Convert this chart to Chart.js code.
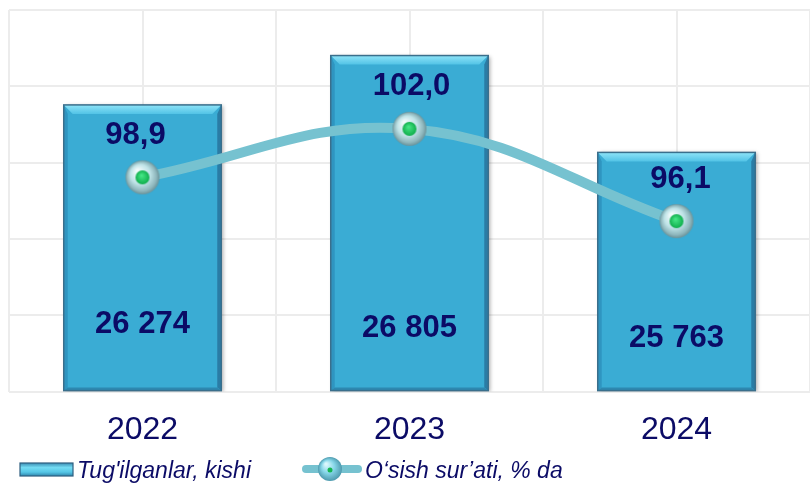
<!DOCTYPE html>
<html>
<head>
<meta charset="utf-8">
<script src="https://cdn.jsdelivr.net/npm/chart.js@4.4.1/dist/chart.umd.min.js"></script>
<style>
  body { margin: 0; background: #ffffff; }
  #wrap { width: 810px; height: 485px; position: relative; }
</style>
</head>
<body>
<div id="wrap"><canvas id="births-chart"></canvas></div>
<script>
const years = ['2022', '2023', '2024'];
const births = [26274, 26805, 25763];
const growthRate = [98.9, 102.0, 96.1];

const seriesNames = ['Tug\'ilganlar, kishi', 'O\u2018sish sur\u2019ati, % da'];

const navy = '#0b0b66';
const fontName = '"Liberation Sans", Arial, sans-serif';
const lineColor = '#76c2d0';
const birthsAxisMin = 23190;

function formatThousands(value) {
  return String(value).replace(/\B(?=(\d{3})+(?!\d))/g, ' ');
}

function formatRate(value) {
  return value.toFixed(1).replace('.', ',');
}

function makeMarker(radius, dotRadius) {
  const size = radius * 2 + 4;
  const c = document.createElement('canvas');
  c.width = size;
  c.height = size;
  const g = c.getContext('2d');
  const mid = size / 2;

  let grad = g.createRadialGradient(mid - radius * 0.3, mid - radius * 0.4, 1, mid, mid, radius);
  grad.addColorStop(0, '#f2fbfc');
  grad.addColorStop(0.55, '#bfe3e7');
  grad.addColorStop(0.85, '#8fb7bd');
  grad.addColorStop(1, '#6a9299');
  g.beginPath();
  g.arc(mid, mid, radius, 0, Math.PI * 2);
  g.fillStyle = grad;
  g.fill();

  grad = g.createRadialGradient(mid - 1, mid - 2, 0.5, mid, mid, dotRadius);
  grad.addColorStop(0, '#45e685');
  grad.addColorStop(1, '#0fae4c');
  g.beginPath();
  g.arc(mid, mid, dotRadius, 0, Math.PI * 2);
  g.fillStyle = grad;
  g.fill();
  return c;
}

const pointMarker = makeMarker(17, 7);

// shadow under the bars, then a bevel on top of them
const barBevel = {
  id: 'barBevel',
  beforeDatasetDraw(chart, args) {
    if (args.meta.type !== 'bar') return;
    const ctx = chart.ctx;
    ctx.save();
    ctx.shadowColor = 'rgba(0, 0, 0, 0.35)';
    ctx.shadowBlur = 4;
    ctx.shadowOffsetX = 2;
    ctx.shadowOffsetY = 1;
  },
  afterDatasetDraw(chart, args) {
    if (args.meta.type !== 'bar') return;
    const ctx = chart.ctx;
    ctx.restore();
    ctx.save();
    args.meta.data.forEach(bar => {
      const { x, y, base, width } = bar.getProps(['x', 'y', 'base', 'width'], true);
      const left = x - width / 2;
      const right = x + width / 2;
      const b = 9;
      const side = 4;

      const topGrad = ctx.createLinearGradient(0, y, 0, y + b);
      topGrad.addColorStop(0, '#8fe4f8');
      topGrad.addColorStop(1, '#52c3e6');
      ctx.beginPath();
      ctx.moveTo(left, y);
      ctx.lineTo(right, y);
      ctx.lineTo(right - b, y + b);
      ctx.lineTo(left + b, y + b);
      ctx.closePath();
      ctx.fillStyle = topGrad;
      ctx.fill();

      ctx.beginPath();
      ctx.moveTo(left, y);
      ctx.lineTo(left + side, y + b);
      ctx.lineTo(left + side, base - 3);
      ctx.lineTo(left, base);
      ctx.closePath();
      ctx.fillStyle = '#2f95c0';
      ctx.fill();

      ctx.beginPath();
      ctx.moveTo(right, y);
      ctx.lineTo(right - side, y + b);
      ctx.lineTo(right - side, base - 3);
      ctx.lineTo(right, base);
      ctx.closePath();
      ctx.fillStyle = '#2a7ca5';
      ctx.fill();

      ctx.beginPath();
      ctx.moveTo(left, base);
      ctx.lineTo(left + side, base - 3);
      ctx.lineTo(right - side, base - 3);
      ctx.lineTo(right, base);
      ctx.closePath();
      ctx.fillStyle = '#2d88b0';
      ctx.fill();

      ctx.lineWidth = 1.5;
      ctx.strokeStyle = '#3a6f8c';
      ctx.strokeRect(left, y, width, base - y);
    });
    ctx.restore();
  },
};

// number labels on bars and above the markers
const valueLabels = {
  id: 'valueLabels',
  afterDatasetsDraw(chart) {
    const ctx = chart.ctx;
    const barMeta = chart.getDatasetMeta(0);
    const lineMeta = chart.getDatasetMeta(1);
    const barLabelLift = [66, 62, 52];
    const rateLabelShift = [-7, 2, 4];
    ctx.save();
    ctx.fillStyle = navy;
    ctx.font = 'bold 31px ' + fontName;
    ctx.textAlign = 'center';
    ctx.textBaseline = 'middle';
    barMeta.data.forEach((bar, i) => {
      const { x, base } = bar.getProps(['x', 'base'], true);
      ctx.fillText(formatThousands(births[i]), x, base - barLabelLift[i]);
    });
    lineMeta.data.forEach((pt, i) => {
      const { x, y } = pt.getProps(['x', 'y'], true);
      ctx.fillText(formatRate(growthRate[i]), x + rateLabelShift[i], y - 42);
    });
    ctx.restore();
  },
};

// legend drawn by hand to match the spacing of the original
const customLegend = {
  id: 'customLegend',
  afterDraw(chart) {
    const ctx = chart.ctx;
    const cy = 469;
    ctx.save();

    const sw = ctx.createLinearGradient(0, cy - 6, 0, cy + 7);
    sw.addColorStop(0, '#3b8db3');
    sw.addColorStop(0.35, '#74dcf3');
    sw.addColorStop(0.7, '#55c6e6');
    sw.addColorStop(1, '#2f86ad');
    ctx.fillStyle = sw;
    ctx.fillRect(20, cy - 6, 53, 13);
    ctx.lineWidth = 1.2;
    ctx.strokeStyle = '#2f5f80';
    ctx.strokeRect(20, cy - 6, 53, 13);

    ctx.beginPath();
    ctx.moveTo(306, cy);
    ctx.lineTo(358, cy);
    ctx.lineWidth = 8;
    ctx.lineCap = 'round';
    ctx.strokeStyle = lineColor;
    ctx.stroke();

    const lg = ctx.createRadialGradient(326, cy - 5, 1, 330, cy, 12);
    lg.addColorStop(0, '#d9f7fc');
    lg.addColorStop(0.5, '#86d6e8');
    lg.addColorStop(1, '#4e9aae');
    ctx.beginPath();
    ctx.arc(330, cy, 12, 0, Math.PI * 2);
    ctx.fillStyle = lg;
    ctx.fill();
    ctx.beginPath();
    ctx.arc(330, cy + 1, 2.5, 0, Math.PI * 2);
    ctx.fillStyle = '#14b552';
    ctx.fill();

    ctx.fillStyle = navy;
    ctx.font = 'italic 23px ' + fontName;
    ctx.textBaseline = 'alphabetic';
    ctx.textAlign = 'left';
    ctx.fillText(seriesNames[0], 77, cy + 9);
    ctx.fillText(seriesNames[1], 365, cy + 9);
    ctx.restore();
  },
};

const gridColor = '#ececec';

new Chart(document.getElementById('births-chart'), {
  type: 'bar',
  data: {
    labels: years,
    datasets: [
      {
        label: seriesNames[0],
        data: births,
        base: birthsAxisMin,
        backgroundColor: '#3aacd4',
        borderWidth: 0,
        barPercentage: 0.59,
        categoryPercentage: 1,
        yAxisID: 'y',
        order: 1,
      },
      {
        type: 'line',
        label: seriesNames[1],
        data: growthRate,
        borderColor: lineColor,
        borderWidth: 10,
        borderCapStyle: 'round',
        tension: 0.4,
        pointStyle: pointMarker,
        pointRadius: 17,
        yAxisID: 'yRate',
        order: 0,
      },
    ],
  },
  options: {
    responsive: true,
    maintainAspectRatio: false,
    animation: false,
    layout: { autoPadding: false, padding: { left: 9, top: 10, right: 0, bottom: 17 } },
    plugins: {
      legend: { display: false },
      tooltip: { enabled: false },
    },
    scales: {
      x: {
        offset: true,
        grid: { offset: true, color: gridColor, lineWidth: 2, drawTicks: false },
        border: { display: false },
        ticks: {
          color: navy,
          font: { family: fontName, size: 32 },
          padding: 19,
          maxRotation: 0,
        },
      },
      xCenter: {
        type: 'category',
        position: 'bottom',
        offset: true,
        grid: { offset: false, color: gridColor, lineWidth: 2, drawTicks: false },
        border: { display: false },
        ticks: { display: false },
        afterFit: scale => {
          scale.height = 0;
        },
      },
      y: {
        min: birthsAxisMin,
        max: 27295,
        ticks: { display: false, stepSize: 821 },
        grid: { color: gridColor, lineWidth: 2, drawTicks: false },
        border: { display: false },
      },
      yRate: {
        display: false,
        min: 85.2,
        max: 109.6,
      },
    },
  },
  plugins: [barBevel, valueLabels, customLegend],
});
</script>
</body>
</html>
